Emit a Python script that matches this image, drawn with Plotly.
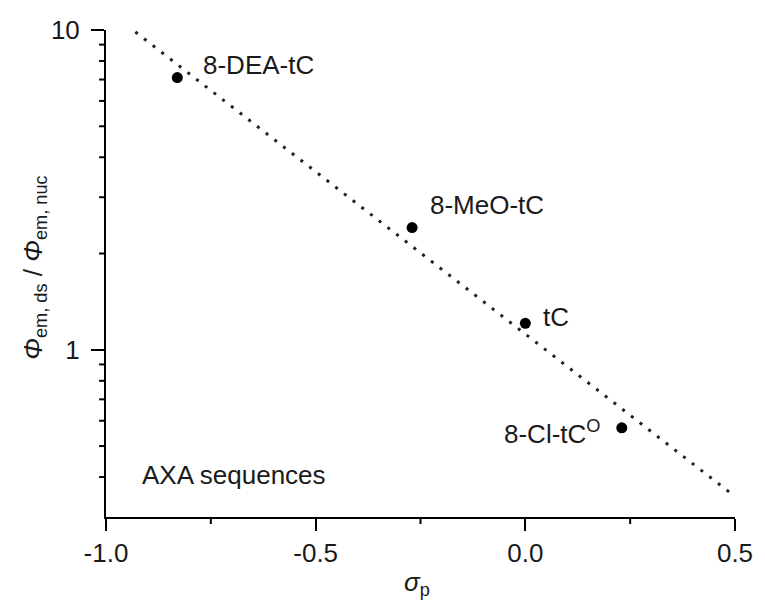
import plotly.graph_objects as go
import math

# Data
compounds = ["8-DEA-tC", "8-MeO-tC", "tC", "8-Cl-tC<sup>O</sup>"]
sigma_p = [-0.83, -0.27, 0.0, 0.23]
phi_ratio = [7.1, 2.41, 1.21, 0.57]

# Fitted trend line (end points)
fit_x = [-0.93, 0.49]
fit_y = [9.86, 0.356]

x_range = [-1.0, 0.5]
y_range = [0.3, 10]
x_ticks = [-1.0, -0.5, 0.0, 0.5]
x_ticktext = ["-1.0", "-0.5", "0.0", "0.5"]
x_minor = [-0.75, -0.25, 0.25]
y_ticks = [1, 10]
y_ticktext = ["1", "10"]
y_minor = [0.4, 0.5, 0.6, 0.7, 0.8, 0.9, 2, 3, 4, 5, 6, 7, 8, 9]

# label offsets (pixels) relative to each point: (xshift, yshift, xanchor)
label_offsets = [(24, 13, "left"), (16, 23, "left"), (16, 6, "left"), (-19, -5, "right")]

FONT = "Arial, Liberation Sans, sans-serif"
TXT = "#1a1a1a"

L, R, T, B = 106, 23, 30, 85
W, H = 765, 602
pw, ph = W - L - R, H - T - B

fig = go.Figure()
fig.add_trace(go.Scatter(
    x=fit_x, y=fit_y, mode="lines",
    line=dict(color="#222222", width=3, dash="3px,8px"),
    showlegend=False, hoverinfo="skip"))
fig.add_trace(go.Scatter(
    x=sigma_p, y=phi_ratio, mode="markers",
    marker=dict(color="black", size=11),
    showlegend=False))

for name, xv, yv, (dx, dy, anc) in zip(compounds, sigma_p, phi_ratio, label_offsets):
    fig.add_annotation(x=xv, y=math.log10(yv), xref="x", yref="y", text=name,
                       showarrow=False, xanchor=anc, yanchor="middle",
                       xshift=dx, yshift=dy,
                       font=dict(family=FONT, size=26, color=TXT))

fig.add_annotation(x=-0.92, y=math.log10(0.40), xref="x", yref="y",
                   text="AXA sequences", showarrow=False, xanchor="left",
                   yanchor="middle", yshift=2,
                   font=dict(family=FONT, size=26, color=TXT))

fig.add_annotation(xref="paper", yref="paper",
                   x=(33 - L) / pw, y=(H - B - 267) / ph,
                   text="<i>Φ</i><sub>em, ds</sub> / <i>Φ</i><sub>em, nuc</sub>",
                   textangle=-90, showarrow=False, xanchor="center", yanchor="middle",
                   font=dict(family=FONT, size=26, color=TXT))
fig.add_annotation(xref="paper", yref="paper",
                   x=(420 - L) / pw, y=(H - B - 583) / ph,
                   text="<i>σ</i><sub>p</sub>",
                   showarrow=False, xanchor="center", yanchor="middle",
                   font=dict(family=FONT, size=26, color=TXT))

# minor tick marks (outside the plot area) drawn from the minor tick arrays
tick_line = dict(color="black", width=2)
for v in x_minor:
    fig.add_shape(type="line", xref="x", yref="paper", x0=v, x1=v,
                  y0=0, y1=-7 / ph, line=tick_line, layer="above")
for v in y_minor:
    fig.add_shape(type="line", xref="paper", yref="y", x0=0, x1=-7 / pw,
                  y0=v, y1=v, line=tick_line, layer="above")

common = dict(showgrid=False, zeroline=False)
fig.update_layout(
    xaxis=dict(
        range=x_range, tickmode="array", tickvals=x_ticks, ticktext=x_ticktext,
        showline=True, linecolor="black", linewidth=2,
        ticks="outside", ticklen=12, tickwidth=2, tickcolor="black",
        tickfont=dict(family=FONT, size=26, color=TXT), **common),
    yaxis=dict(
        type="log", range=[math.log10(y_range[0]), math.log10(y_range[1])],
        tickmode="array", tickvals=y_ticks, ticktext=y_ticktext,
        showline=True, linecolor="black", linewidth=2,
        ticks="outside", ticklen=13, tickwidth=2, tickcolor="black",
        ticklabelstandoff=6,
        tickfont=dict(family=FONT, size=26, color=TXT), **common),
    width=W, height=H,
    margin=dict(l=L, r=R, t=T, b=B),
    paper_bgcolor="white", plot_bgcolor="white",
    showlegend=False)

fig.write_html("out.html")
